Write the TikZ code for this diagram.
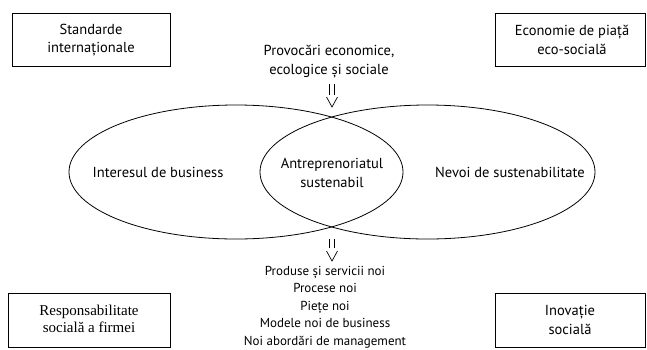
\documentclass[tikz,border=0pt]{standalone}
\usepackage{fontspec}
\setmainfont{PT Sans}
\newfontfamily\serifrm{Liberation Serif}
\begin{document}
\begin{tikzpicture}[x=1pt,y=-1pt,
  txt/.style={align=center,inner sep=0pt,font=\fontsize{14.5}{19}\selectfont},
  boxtxt/.style={align=center,inner sep=0pt,font=\fontsize{14.5}{18.5}\selectfont},
  frame/.style={draw,line width=0.9pt},
  ell/.style={draw,line width=0.8pt},
  dbl/.style={line width=0.7pt}]
\useasboundingbox (0,0) rectangle (647,349);
% corner boxes
\draw[frame] (12,13) rectangle (170,66);
\node[boxtxt] (si) at (91,40) {Standarde\\internaționale};
\draw[frame] (495,13) rectangle (645,66);
\node[boxtxt] (ep) at (572,40) {Economie de piață\\eco-socială};
\draw[frame] (8,293) rectangle (170,347);
\node[boxtxt,font=\serifrm\fontsize{15}{17}\selectfont] (rs) at (89,319) {Responsabilitate\\socială a firmei};
\draw[frame] (495,293) rectangle (645,347);
\node[boxtxt] (is) at (570,320) {Inovație\\socială};
% ellipses
\draw[ell] (236,172) ellipse [x radius=167, y radius=67];
\draw[ell] (427.5,172) ellipse [x radius=167.5, y radius=67];
% texts
\node[txt] (pr) at (329,62) {Provocări economice,\\ecologice și sociale};
\node[txt] (ib) at (158,172) {Interesul de business};
\node[txt] (ns) at (510,172) {Nevoi de sustenabilitate};
\node[txt,font=\fontsize{14.5}{19.5}\selectfont] (as) at (332,173) {Antreprenoriatul\\sustenabil};
\node[txt,font=\fontsize{13}{17.5}\selectfont] (ps) at (325,307) {Produse și servicii noi\\Procese noi\\Piețe noi\\Modele noi de business\\Noi abordări de management};
% double arrows
\coordinate (t1) at (332,84);
\coordinate (b1) at (332,239);
\draw[dbl] ([xshift=-2.5pt]t1) -- ++(0,11) ([xshift=2.5pt]t1) -- ++(0,11);
\draw[dbl] (326.5,97) -- (332,107) -- (337.5,97);
\draw[dbl] ([xshift=-2.5pt]b1) -- ++(0,9) ([xshift=2.5pt]b1) -- ++(0,9);
\draw[dbl] (326.5,251) -- (332,261) -- (337.5,251);
\end{tikzpicture}
\end{document}
